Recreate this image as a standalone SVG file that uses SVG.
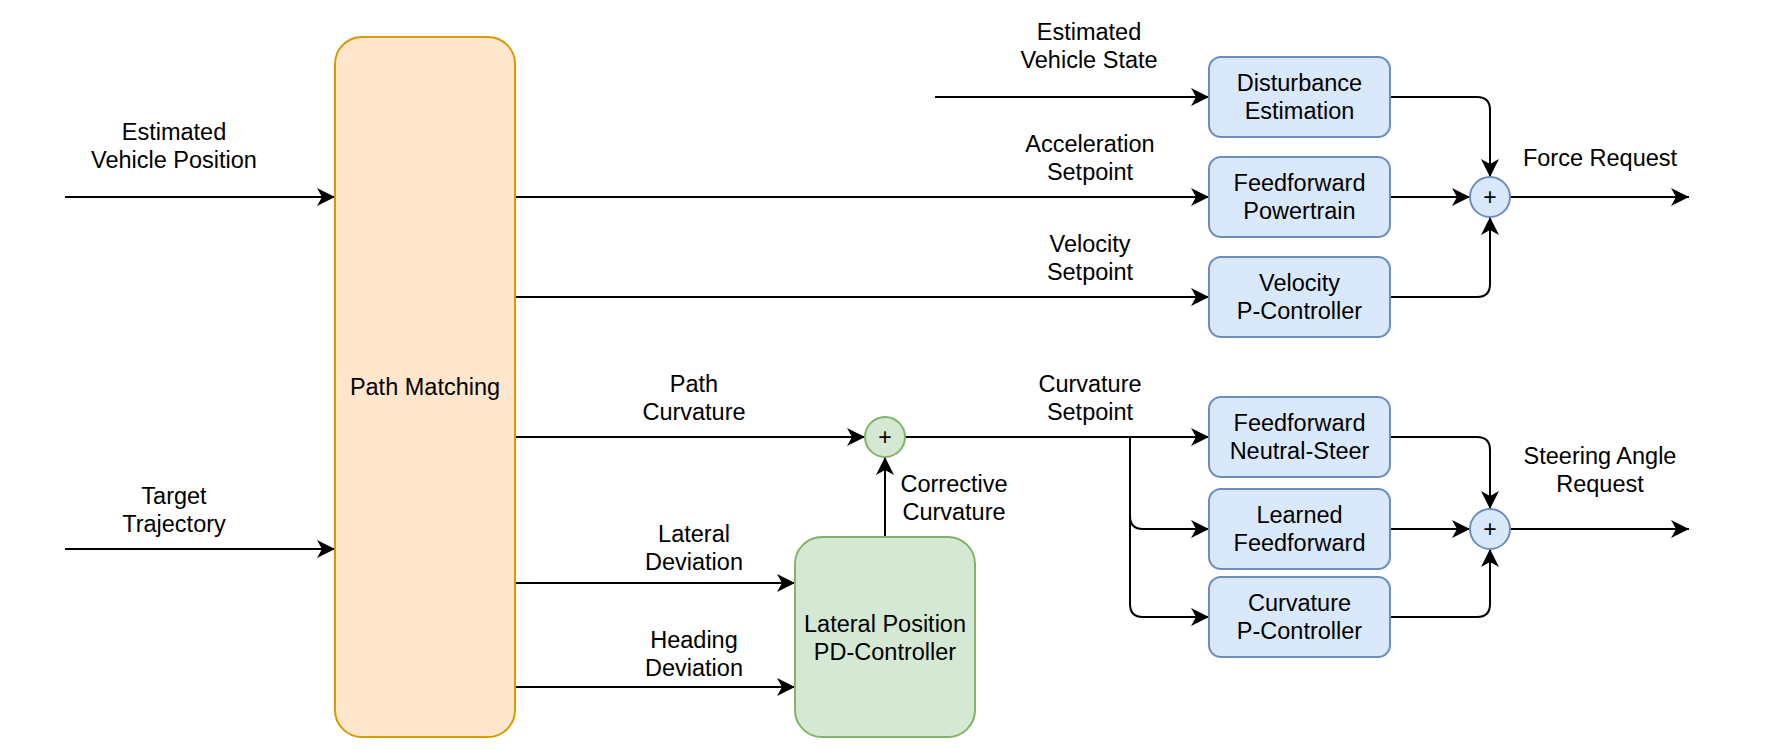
<svg xmlns="http://www.w3.org/2000/svg" width="1781" height="748" viewBox="0 0 1781 748">
<style>
text{font-family:"Liberation Sans",Arial,sans-serif;font-size:23.5px;fill:#000;text-anchor:middle}
.plus{font-size:23px}
.orange{fill:#ffe6cc;stroke:#d79b00;stroke-width:2}
.blue{fill:#dae8fc;stroke:#6c8ebf;stroke-width:2}
.green{fill:#d5e8d4;stroke:#82b366;stroke-width:2}
.edge{fill:none;stroke:#000;stroke-width:2;marker-end:url(#arr)}
</style>
<defs>
<marker id="arr" markerUnits="userSpaceOnUse" markerWidth="20" markerHeight="20" viewBox="-19 -10 20 20" refX="0" refY="0" orient="auto">
<path d="M0,0 L-18,-9 L-13,0 L-18,9 Z" fill="#000"/>
</marker>
</defs>
<rect width="1781" height="748" fill="#fff"/>
<g id="connectors">
<path class="edge" d="M65,197 H335"/>
<path class="edge" d="M65,549 H335"/>
<path class="edge" d="M935,97 H1209"/>
<path class="edge" d="M515,197 H1209"/>
<path class="edge" d="M515,297 H1209"/>
<path class="edge" d="M515,437 H865"/>
<path class="edge" d="M515,583 H795"/>
<path class="edge" d="M515,687 H795"/>
<path class="edge" d="M885,537 V457"/>
<path class="edge" d="M905,437 H1209"/>
<path class="edge" d="M1130,437 V516 Q1130,529 1143,529 H1209"/>
<path class="edge" d="M1130,437 V604 Q1130,617 1143,617 H1209"/>
<path class="edge" d="M1390,97 H1477 Q1490,97 1490,110 V177"/>
<path class="edge" d="M1390,197 H1470"/>
<path class="edge" d="M1390,297 H1477 Q1490,297 1490,284 V217"/>
<path class="edge" d="M1510,197 H1689"/>
<path class="edge" d="M1390,437 H1477 Q1490,437 1490,450 V509"/>
<path class="edge" d="M1390,529 H1470"/>
<path class="edge" d="M1390,617 H1477 Q1490,617 1490,604 V549"/>
<path class="edge" d="M1510,529 H1689"/>
</g>
<g id="edge-labels">
<text x="174" y="140">Estimated</text><text x="174" y="168">Vehicle Position</text>
<text x="174" y="504">Target</text><text x="174" y="532">Trajectory</text>
<text x="1089" y="40">Estimated</text><text x="1089" y="68">Vehicle State</text>
<text x="1090" y="152">Acceleration</text><text x="1090" y="180">Setpoint</text>
<text x="1090" y="252">Velocity</text><text x="1090" y="280">Setpoint</text>
<text x="694" y="392">Path</text><text x="694" y="420">Curvature</text>
<text x="694" y="542">Lateral</text><text x="694" y="570">Deviation</text>
<text x="694" y="648">Heading</text><text x="694" y="676">Deviation</text>
<text x="954" y="492">Corrective</text><text x="954" y="520">Curvature</text>
<text x="1090" y="392">Curvature</text><text x="1090" y="420">Setpoint</text>
<text x="1600" y="166">Force Request</text>
<text x="1600" y="464">Steering Angle</text><text x="1600" y="492">Request</text>
</g>
<g id="path-matching">
<rect class="orange" x="335" y="37" width="180" height="700" rx="27"/>
<text x="425" y="395">Path Matching</text>
</g>
<g id="disturbance-estimation">
<rect class="blue" x="1209" y="57" width="181" height="80" rx="12"/>
<text x="1299.5" y="91">Disturbance</text><text x="1299.5" y="119">Estimation</text>
</g>
<g id="feedforward-powertrain">
<rect class="blue" x="1209" y="157" width="181" height="80" rx="12"/>
<text x="1299.5" y="191">Feedforward</text><text x="1299.5" y="219">Powertrain</text>
</g>
<g id="velocity-p-controller">
<rect class="blue" x="1209" y="257" width="181" height="80" rx="12"/>
<text x="1299.5" y="291">Velocity</text><text x="1299.5" y="319">P-Controller</text>
</g>
<g id="feedforward-neutral-steer">
<rect class="blue" x="1209" y="397" width="181" height="80" rx="12"/>
<text x="1299.5" y="431">Feedforward</text><text x="1299.5" y="459">Neutral-Steer</text>
</g>
<g id="learned-feedforward">
<rect class="blue" x="1209" y="489" width="181" height="80" rx="12"/>
<text x="1299.5" y="523">Learned</text><text x="1299.5" y="551">Feedforward</text>
</g>
<g id="curvature-p-controller">
<rect class="blue" x="1209" y="577" width="181" height="80" rx="12"/>
<text x="1299.5" y="611">Curvature</text><text x="1299.5" y="639">P-Controller</text>
</g>
<g id="lateral-pd-controller">
<rect class="green" x="795" y="537" width="180" height="200" rx="27"/>
<text x="885" y="632">Lateral Position</text><text x="885" y="660">PD-Controller</text>
</g>
<g id="sum-curvature">
<circle class="green" cx="885" cy="437" r="20"/>
<text class="plus" x="885" y="445">+</text>
</g>
<g id="sum-force">
<circle class="blue" cx="1490" cy="197" r="20"/>
<text class="plus" x="1490" y="205">+</text>
</g>
<g id="sum-steering">
<circle class="blue" cx="1490" cy="529" r="20"/>
<text class="plus" x="1490" y="537">+</text>
</g>
</svg>
